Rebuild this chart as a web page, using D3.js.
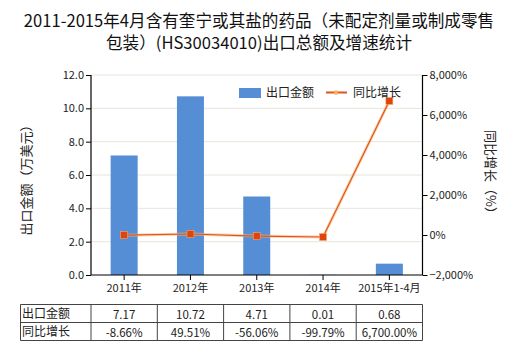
<!DOCTYPE html>
<html><head><meta charset="utf-8">
<script src="https://cdn.jsdelivr.net/npm/d3@7"></script>
<style>body{margin:0;background:#fff}svg{display:block}text{font-family:"Noto Sans CJK SC","Microsoft YaHei",sans-serif}</style>
</head><body><svg id="c" width="520" height="350"></svg>
<script>
const categories = ["2011年","2012年","2013年","2014年","2015年1-4月"];
const exportValues = [7.17, 10.72, 4.71, 0.01, 0.68];
const growthValues = [-8.66, 49.51, -56.06, -99.79, 6700.00];
const exportLabels = ["7.17","10.72","4.71","0.01","0.68"];
const growthLabels = ["-8.66%","49.51%","-56.06%","-99.79%","6,700.00%"];
const leftTicks = [0,2,4,6,8,10,12];
const rightTicks = [-2000,0,2000,4000,6000,8000];

const svg = d3.select("#c");
const L = 91, R = 422.5, T = 75, B = 275;
const xb = d3.scaleBand().domain(categories).range([L, R]);
const yL = d3.scaleLinear().domain([0, 12]).range([B, T]);
const yR = d3.scaleLinear().domain([-2000, 8000]).range([B, T]);

// title
const title = svg.append("text").attr("text-anchor","middle").attr("font-size",16.6).attr("fill","#111");
title.append("tspan").attr("x",259).attr("y",27).text("2011-2015年4月含有奎宁或其盐的药品（未配定剂量或制成零售");
title.append("tspan").attr("x",259).attr("y",49).text("包装）(HS30034010)出口总额及增速统计");

// gridlines
svg.append("g").selectAll("line").data(leftTicks.slice(1)).join("line")
  .attr("x1",L).attr("x2",R).attr("y1",d=>yL(d)).attr("y2",d=>yL(d))
  .attr("stroke","#e6e6dc").attr("stroke-width",1);

// bars
svg.append("g").selectAll("rect").data(exportValues).join("rect")
  .attr("x",(d,i)=>xb(categories[i]) + xb.bandwidth()/2 - 13.5)
  .attr("width",27)
  .attr("y",d=>yL(d)).attr("height",d=>B - yL(d))
  .attr("fill","#558ed5");

// axes
const axL = svg.append("g").attr("transform",`translate(${L},0)`)
  .call(d3.axisLeft(yL).tickValues(leftTicks).tickFormat(d3.format(".1f")).tickSize(5).tickPadding(2));
const axR = svg.append("g").attr("transform",`translate(${R},0)`)
  .call(d3.axisRight(yR).tickValues(rightTicks).tickFormat(d=>d3.format(",")(d)+"%").tickSize(5).tickPadding(2));
const axB = svg.append("g").attr("transform",`translate(0,${B})`)
  .call(d3.axisBottom(xb).tickSize(5).tickPadding(4));
[axL,axR,axB].forEach(a=>{
  a.selectAll("path").attr("stroke","#000").attr("stroke-width",1.2);
  a.selectAll("line").attr("stroke","#000");
  a.selectAll("text").attr("font-size",11).attr("fill","#222").attr("font-family",'"Noto Sans CJK SC",sans-serif');
});
axL.select(".domain").attr("d",`M0,${B}V${T}`);
axR.select(".domain").attr("d",`M0,${B}V${T}`);
axB.select(".domain").attr("d",`M${L},0H${R}`);

// line
const pts = growthValues.map((v,i)=>[xb(categories[i])+xb.bandwidth()/2, yR(v)]);
svg.append("path").attr("d",d3.line()(pts)).attr("fill","none").attr("stroke","#f7b77a").attr("stroke-width",3).attr("opacity",0.6);
svg.append("path").attr("d",d3.line()(pts)).attr("fill","none").attr("stroke","#e0531a").attr("stroke-width",1.2);
svg.append("g").selectAll("rect").data(pts).join("rect")
  .attr("x",d=>d[0]-3.5).attr("y",d=>d[1]-3.5).attr("width",7).attr("height",7)
  .attr("fill","#e0440e").attr("stroke","#f5a86a").attr("stroke-width",0.6);

// axis titles
svg.append("text").attr("transform","translate(31,177) rotate(-90)").attr("text-anchor","middle")
  .attr("font-size",13).attr("fill","#222").text("出口金额（万美元）");
svg.append("text").attr("transform","translate(486,175) rotate(90)").attr("text-anchor","middle")
  .attr("font-size",13).attr("fill","#222").text("同比增长（%）");

// legend
svg.append("rect").attr("x",239).attr("y",88).attr("width",22).attr("height",10).attr("fill","#558ed5");
svg.append("text").attr("x",266).attr("y",97).attr("font-size",12).attr("fill","#222").text("出口金额");
svg.append("line").attr("x1",326).attr("x2",347).attr("y1",92.5).attr("y2",92.5).attr("stroke","#e0531a").attr("stroke-width",2);
svg.append("rect").attr("x",334).attr("y",90.5).attr("width",4).attr("height",4).attr("fill","#f0b060");
svg.append("text").attr("x",353).attr("y",97).attr("font-size",12).attr("fill","#222").text("同比增长");

// table
const tX = [20.5, L, ...categories.map((c,i)=>xb(c)+xb.bandwidth())];
const tY = [304.5, 322.5, 340.5];
const tbl = svg.append("g").attr("stroke","#444").attr("stroke-width",1);
tbl.selectAll("line.v").data(tX).join("line").attr("x1",d=>d).attr("x2",d=>d).attr("y1",tY[0]).attr("y2",tY[2]);
tbl.selectAll("line.h").data(tY).join("line").attr("class","h").attr("x1",tX[0]).attr("x2",tX[tX.length-1]).attr("y1",d=>d).attr("y2",d=>d);
const rows = [["出口金额", exportLabels],["同比增长", growthLabels]];
rows.forEach((r,ri)=>{
  svg.append("text").attr("x",22).attr("y",tY[ri]+13).attr("font-size",12).attr("fill","#222").text(r[0]);
  svg.append("g").selectAll("text").data(r[1]).join("text")
    .attr("x",(d,i)=>xb(categories[i])+xb.bandwidth()/2).attr("y",tY[ri]+14.5)
    .attr("text-anchor","middle").attr("font-size",11.5).attr("fill","#222").text(d=>d);
});
</script></body></html>
